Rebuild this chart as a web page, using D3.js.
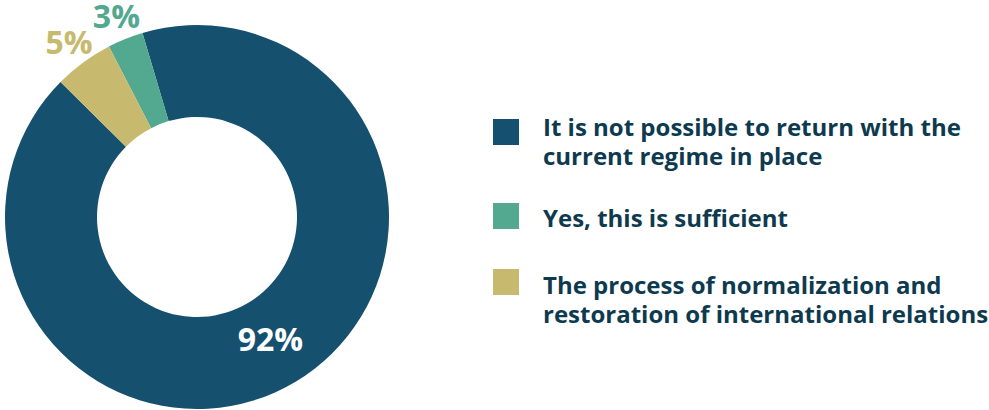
<!DOCTYPE html>
<html>
<head>
<meta charset="utf-8">
<script src="https://cdn.jsdelivr.net/npm/d3@7"></script>
<style>
  html, body { margin: 0; padding: 0; background: #ffffff; }
  svg { display: block; font-family: "Open Sans", sans-serif; }
</style>
</head>
<body>
<svg id="chart" width="989" height="410"></svg>
<script>
// Survey answers and their shares (percent)
const categories = [
  "It is not possible to return with the\ncurrent regime in place",
  "Yes, this is sufficient",
  "The process of normalization and\nrestoration of international relations"
];
const values = [92, 3, 5];
const colors = ["#16506F", "#52A98F", "#C7BA6F"];
const valueLabels = ["92%", "3%", "5%"];
// clockwise drawing order around the ring
const ringOrder = [0, 2, 1];

const svg = d3.select("#chart");
const cx = 197, cy = 217, outerR = 192, innerR = 100;

const data = categories.map((c, i) => ({ name: c, value: values[i], color: colors[i], label: valueLabels[i], idx: i }));

const start = -16.5 * Math.PI / 180;
const pie = d3.pie()
  .value(d => d.value)
  .sort((a, b) => ringOrder.indexOf(a.idx) - ringOrder.indexOf(b.idx))
  .startAngle(start)
  .endAngle(start + 2 * Math.PI);

const arcs = pie(data);
const arc = d3.arc().innerRadius(innerR).outerRadius(outerR);
const g = svg.append("g").attr("transform", `translate(${cx},${cy})`);

g.selectAll("path.slice")
  .data(arcs)
  .join("path")
  .attr("class", "slice")
  .attr("d", arc)
  .attr("fill", d => d.data.color);

// value labels: inside the ring for the big slice, outside for the small ones
const innerLabelArc = d3.arc().innerRadius(143).outerRadius(143);
const outerLabelArc = d3.arc().innerRadius(216).outerRadius(216);
g.selectAll("text.val")
  .data(arcs)
  .join("text")
  .attr("class", "val")
  .attr("transform", d => {
    const p = d.data.value > 50 ? innerLabelArc.centroid(d) : outerLabelArc.centroid(d);
    return `translate(${p[0]},${p[1]})`;
  })
  .attr("text-anchor", "middle")
  .attr("dy", "0.36em")
  .attr("font-size", 32)
  .attr("font-weight", 700)
  .attr("fill", d => d.data.value > 50 ? "#ffffff" : d.data.color)
  .text(d => d.data.label);

// legend
const squareTop = [119, 203, 269];
const textBase = [136, 227, 294];
const legend = svg.append("g").attr("transform", "translate(493,0)");
const item = legend.selectAll("g.item")
  .data(data)
  .join("g")
  .attr("class", "item");

item.append("rect")
  .attr("y", (d, i) => squareTop[i])
  .attr("width", 26)
  .attr("height", 26)
  .attr("fill", d => d.color);

item.append("text")
  .attr("y", (d, i) => textBase[i])
  .attr("font-size", 24)
  .attr("font-weight", 700)
  .attr("fill", "#0E3A50")
  .selectAll("tspan")
  .data(d => d.name.split("\n"))
  .join("tspan")
  .attr("x", 50)
  .attr("dy", (t, j) => j === 0 ? 0 : 28.5)
  .text(t => t);
</script>
</body>
</html>
